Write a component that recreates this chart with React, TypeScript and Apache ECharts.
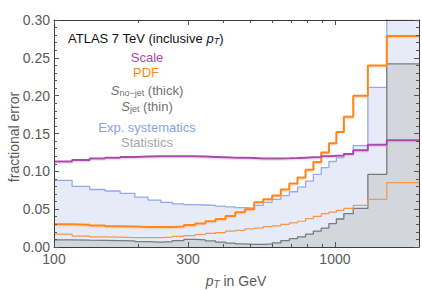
import React, { useEffect, useRef } from "react";
import * as echarts from "echarts";

// Bin edges in GeV (ATLAS 7 TeV inclusive jet pT bins)
const binEdges = [100, 116, 134, 152, 172, 194, 216, 240, 264, 290, 318, 346, 376, 408, 442, 478, 516, 556, 598, 642, 688, 736, 786, 838, 894, 952, 1012, 1076, 1162, 1310, 1530, 1992];

// Per-bin fractional errors (31 bins)
const scaleErr = [0.113, 0.115, 0.117, 0.118, 0.119, 0.1195, 0.12, 0.12, 0.12, 0.1198, 0.1195, 0.119, 0.1185, 0.118, 0.118, 0.1175, 0.117, 0.117, 0.117, 0.1172, 0.1175, 0.118, 0.1185, 0.119, 0.12, 0.1205, 0.121, 0.123, 0.128, 0.135, 0.141];
const pdfNoJet = [0.03, 0.0295, 0.0285, 0.0275, 0.027, 0.0265, 0.0265, 0.0265, 0.027, 0.029, 0.031, 0.034, 0.037, 0.041, 0.046, 0.05, 0.059, 0.063, 0.068, 0.076, 0.084, 0.092, 0.102, 0.1125, 0.125, 0.137, 0.152, 0.172, 0.2, 0.24, 0.279];
const pdfJet = [0.017, 0.0145, 0.0135, 0.013, 0.0125, 0.0125, 0.0125, 0.013, 0.014, 0.015, 0.0165, 0.018, 0.019, 0.021, 0.022, 0.024, 0.025, 0.027, 0.028, 0.03, 0.032, 0.034, 0.0375, 0.0405, 0.044, 0.046, 0.0485, 0.051, 0.055, 0.063, 0.085];
const expSys = [0.088, 0.08, 0.076, 0.074, 0.071, 0.066, 0.062, 0.059, 0.057, 0.056, 0.0555, 0.055, 0.054, 0.053, 0.052, 0.0515, 0.055, 0.059, 0.063, 0.068, 0.073, 0.079, 0.087, 0.096, 0.105, 0.113, 0.118, 0.123, 0.134, 0.211, 0.45];
const statErr = [0.0095, 0.009, 0.0088, 0.0085, 0.008, 0.007, 0.0065, 0.007, 0.0085, 0.01, 0.0095, 0.008, 0.0065, 0.005, 0.004, 0.0035, 0.0035, 0.004, 0.0055, 0.0085, 0.011, 0.0135, 0.017, 0.021, 0.025, 0.031, 0.037, 0.044, 0.051, 0.096, 0.242];

// Axis ticks
const xMajorTicks = [100, 300, 1000];
const xMinorTicks = [200, 400, 500, 600, 700, 800, 900];
const yMin = 0;
const yMax = 0.3;
const yStep = 0.05;

const FONT = "'Liberation Sans', Arial, Helvetica, sans-serif";
const FRAME = "#3c3c3c";
const TICK = "#555555";
const LABEL = "#5a5a5a";

const lg = (v: number) => Math.log10(v);

function stepData(vals: number[]) {
  return binEdges.map((e, i) => [lg(e), vals[Math.min(i, vals.length - 1)]]);
}

export default function App() {
  const ref = useRef<HTMLDivElement>(null);

  useEffect(() => {
    if (!ref.current) return;
    const chart = echarts.init(ref.current, null, { renderer: "svg" });
    const xMin = lg(binEdges[0]);
    const xMax = lg(binEdges[binEdges.length - 1]);

    const baseX: any = {
      type: "value",
      min: xMin,
      max: xMax,
      z: 10,
      splitLine: { show: false },
      axisLine: { show: true, onZero: false, lineStyle: { color: FRAME, width: 1 } },
      axisLabel: { show: false },
    };
    const majorTick = {
      show: true,
      inside: true,
      length: 5,
      customValues: xMajorTicks.map(lg),
      lineStyle: { color: TICK, width: 1 },
    };
    const minorTick = {
      show: true,
      inside: true,
      length: 3,
      customValues: xMinorTicks.map(lg),
      lineStyle: { color: TICK, width: 1 },
    };

    const baseY: any = {
      type: "value",
      min: yMin,
      max: yMax,
      interval: yStep,
      z: 10,
      splitLine: { show: false },
      axisLine: { show: true, onZero: false, lineStyle: { color: FRAME, width: 1 } },
      axisTick: { show: true, inside: true, length: 5, lineStyle: { color: TICK } },
      minorTick: { show: true, splitNumber: 5, length: 3, lineStyle: { color: TICK } },
    };

    const subRich = (fill: string) => ({
      s: { fontSize: 13, fontFamily: FONT, fill, fontStyle: "italic", lineHeight: 14 },
      t: { fontSize: 13, fontFamily: FONT, fill, lineHeight: 14 },
      sub: { fontSize: 9, fontFamily: FONT, fill, lineHeight: 8, verticalAlign: "bottom" },
    });

    const option: any = {
      animation: false,
      backgroundColor: "#ffffff",
      grid: { left: 54, right: 3, top: 20, bottom: 43, containLabel: false },
      xAxis: [
        {
          ...baseX,
          position: "bottom",
          axisTick: majorTick,
          axisLabel: {
            show: true,
            customValues: xMajorTicks.map(lg),
            formatter: (v: number) => String(Math.round(Math.pow(10, v))),
            color: LABEL,
            fontSize: 14,
            fontFamily: FONT,
            margin: 5,
          },
        },
        { ...baseX, position: "bottom", axisLine: { show: false, onZero: false }, axisTick: minorTick },
        { ...baseX, position: "top", axisTick: majorTick },
        { ...baseX, position: "top", axisLine: { show: false, onZero: false }, axisTick: minorTick },
      ],
      yAxis: [
        {
          ...baseY,
          position: "left",
          axisLabel: {
            show: true,
            formatter: (v: number) => v.toFixed(2),
            color: LABEL,
            fontSize: 14,
            fontFamily: FONT,
            margin: 4,
          },
        },
        { ...baseY, position: "right", axisLabel: { show: false } },
      ],
      series: [
        {
          name: "Exp. systematics",
          type: "line",
          step: "end",
          data: stepData(expSys),
          symbol: "none",
          lineStyle: { color: "#93aae9", width: 1.3 },
          areaStyle: { color: "#e7ebf8", opacity: 1 },
          z: 2,
        },
        {
          name: "Statistics",
          type: "line",
          step: "end",
          data: stepData(statErr),
          symbol: "none",
          lineStyle: { color: "#7a7a7a", width: 1.3 },
          areaStyle: { color: "#d4d6de", opacity: 1 },
          z: 3,
        },
        {
          name: "PDF (S_jet)",
          type: "line",
          step: "end",
          data: stepData(pdfJet),
          symbol: "none",
          lineStyle: { color: "#f3984a", width: 1.2 },
          z: 4,
        },
        {
          name: "PDF (S_no-jet)",
          type: "line",
          step: "end",
          data: stepData(pdfNoJet),
          symbol: "none",
          lineStyle: {
            color: "#ff8716",
            width: 2,
            shadowColor: "rgba(255,180,120,0.45)",
            shadowOffsetY: 1.3,
            shadowBlur: 0,
          },
          z: 5,
        },
        {
          name: "Scale",
          type: "line",
          step: "end",
          data: stepData(scaleErr),
          symbol: "none",
          lineStyle: {
            color: "#a64ca8",
            width: 2,
            shadowColor: "rgba(215,165,220,0.45)",
            shadowOffsetY: 1.3,
            shadowBlur: 0,
          },
          z: 6,
        },
      ],
      graphic: [
        {
          type: "text",
          x: 68,
          y: 38,
          z: 20,
          style: {
            text: "{t|ATLAS 7 TeV (inclusive }{s|p}{sub|T}{t|)}",
            align: "left",
            verticalAlign: "middle",
            rich: {
              t: { fontSize: 13, fontFamily: FONT, fill: "#111111", lineHeight: 15 },
              s: { fontSize: 13, fontFamily: FONT, fill: "#111111", fontStyle: "italic", lineHeight: 15 },
              sub: { fontSize: 9, fontFamily: FONT, fill: "#111111", fontStyle: "italic", lineHeight: 8, verticalAlign: "bottom" },
            },
          },
        },
        {
          type: "text",
          x: 147,
          y: 57.5,
          z: 20,
          style: { text: "Scale", align: "center", verticalAlign: "middle", fontSize: 13, fontFamily: FONT, fill: "#a64ca8" },
        },
        {
          type: "text",
          x: 146,
          y: 72,
          z: 20,
          style: { text: "PDF", align: "center", verticalAlign: "middle", fontSize: 13, fontFamily: FONT, fill: "#ff8716" },
        },
        {
          type: "text",
          x: 147,
          y: 90.5,
          z: 20,
          style: {
            text: "{s|S}{sub|no\u2212jet}{t| (thick)}",
            align: "center",
            verticalAlign: "middle",
            rich: subRich("#707070"),
          },
        },
        {
          type: "text",
          x: 147,
          y: 106,
          z: 20,
          style: {
            text: "{s|S}{sub|jet}{t| (thin)}",
            align: "center",
            verticalAlign: "middle",
            rich: subRich("#707070"),
          },
        },
        {
          type: "text",
          x: 147,
          y: 127,
          z: 20,
          style: { text: "Exp. systematics", align: "center", verticalAlign: "middle", fontSize: 13, fontFamily: FONT, fill: "#8ba3e6" },
        },
        {
          type: "text",
          x: 147,
          y: 142,
          z: 20,
          style: { text: "Statistics", align: "center", verticalAlign: "middle", fontSize: 13, fontFamily: FONT, fill: "#a6a6a6" },
        },
        {
          type: "text",
          x: 14,
          y: 137,
          rotation: Math.PI / 2,
          z: 20,
          style: { text: "fractional error", align: "center", verticalAlign: "middle", fontSize: 14, fontFamily: FONT, fill: LABEL },
        },
        {
          type: "text",
          x: 236,
          y: 281,
          z: 20,
          style: {
            text: "{p|p}{sub|T}{t| in GeV}",
            align: "center",
            verticalAlign: "middle",
            rich: {
              p: { fontSize: 14, fontFamily: FONT, fill: LABEL, fontStyle: "italic", lineHeight: 16 },
              t: { fontSize: 14, fontFamily: FONT, fill: LABEL, lineHeight: 16 },
              sub: { fontSize: 10, fontFamily: FONT, fill: LABEL, fontStyle: "italic", lineHeight: 9, verticalAlign: "bottom" },
            },
          },
        },
      ],
    };

    chart.setOption(option);
    return () => {
      chart.dispose();
    };
  }, []);

  return (
    <div
      ref={ref}
      style={{ position: "absolute", left: 0, top: 0, width: 422, height: 290 }}
    />
  );
}
